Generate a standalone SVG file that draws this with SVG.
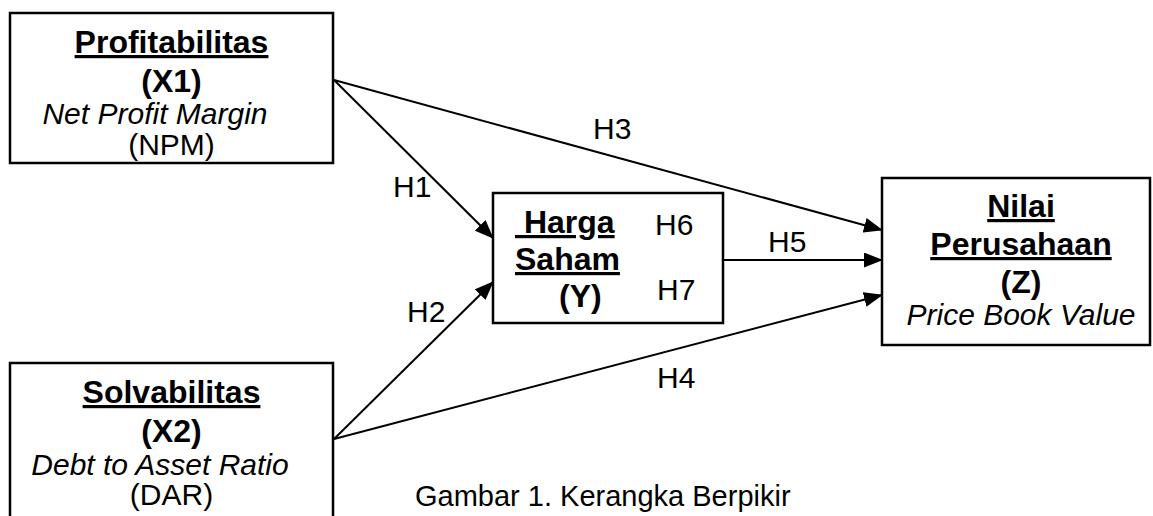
<svg xmlns="http://www.w3.org/2000/svg" width="1153" height="516" viewBox="0 0 1153 516">
  <defs>
    <marker id="arr" markerUnits="userSpaceOnUse" markerWidth="19" markerHeight="15" refX="18" refY="7.5" orient="auto">
      <path d="M0,0 L19,7.5 L0,15 z" fill="#000"/>
    </marker>
    <style>
      rect.box { fill: #fff; stroke: #000; stroke-width: 2.5; }
      text { font-family: "Liberation Sans", Arial, sans-serif; fill: #000; }
      .t { font-size: 32px; font-weight: bold; text-anchor: middle; }
      .ts { font-size: 32px; font-weight: bold; }
      .u { text-decoration: underline; }
      .r { font-size: 30px; text-anchor: middle; }
      .i { font-size: 30px; font-style: italic; text-anchor: middle; }
      .lbl { font-size: 30px; }
      .cap { font-size: 29px; }
      .conn line { stroke: #000; stroke-width: 2; marker-end: url(#arr); }
    </style>
  </defs>
  <rect width="1153" height="516" fill="#fff"/>

  <g id="connectors" class="conn">
    <line x1="334" y1="80" x2="493" y2="238"/>
    <line x1="334" y1="80" x2="882" y2="230"/>
    <line x1="334" y1="439" x2="493" y2="282"/>
    <line x1="334" y1="439" x2="882" y2="295"/>
    <line x1="723" y1="260" x2="882" y2="260"/>
  </g>

  <g id="node-x1">
    <rect class="box" x="10" y="13" width="323" height="150"/>
    <text class="t u" x="171.5" y="53">Profitabilitas</text>
    <text class="t" x="171.5" y="92">(X1)</text>
    <text class="i" x="155" y="124">Net Profit Margin</text>
    <text class="r" x="171.5" y="155">(NPM)</text>
  </g>

  <g id="node-x2">
    <rect class="box" x="10" y="363" width="323" height="200"/>
    <text class="t u" x="171.5" y="403">Solvabilitas</text>
    <text class="t" x="171.5" y="442">(X2)</text>
    <text class="i" x="160" y="475">Debt to Asset Ratio</text>
    <text class="r" x="171.5" y="505">(DAR)</text>
  </g>

  <g id="node-y">
    <rect class="box" x="493" y="193" width="230" height="130"/>
    <text class="ts u" x="515" y="233" style="white-space:pre"> Harga</text>
    <text class="ts u" x="515" y="270">Saham</text>
    <text class="ts" x="559" y="307">(Y)</text>
    <text class="lbl" x="655" y="235">H6</text>
    <text class="lbl" x="657" y="300">H7</text>
  </g>

  <g id="node-z">
    <rect class="box" x="882" y="178" width="268" height="167"/>
    <text class="t u" x="1021" y="217">Nilai</text>
    <text class="t u" x="1021" y="255">Perusahaan</text>
    <text class="t" x="1021" y="293">(Z)</text>
    <text class="i" x="1021" y="325">Price Book Value</text>
  </g>

  <g id="labels">
    <text class="lbl" x="593" y="139">H3</text>
    <text class="lbl" x="393" y="197">H1</text>
    <text class="lbl" x="407" y="322">H2</text>
    <text class="lbl" x="768" y="252">H5</text>
    <text class="lbl" x="657" y="388">H4</text>
    <text class="cap" x="415" y="506">Gambar 1. Kerangka Berpikir</text>
  </g>
</svg>
